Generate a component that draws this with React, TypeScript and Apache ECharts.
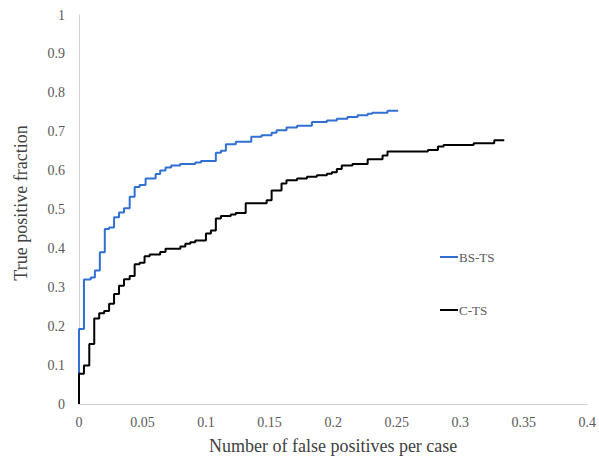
import React, { useEffect, useRef } from "react";
import * as echarts from "echarts";

const xTicks = [0, 0.05, 0.1, 0.15, 0.2, 0.25, 0.3, 0.35, 0.4];
const yTicks = [0, 0.1, 0.2, 0.3, 0.4, 0.5, 0.6, 0.7, 0.8, 0.9, 1];

const bsTsFp = [0, 0, 0.0039, 0.0092, 0.0125, 0.0164, 0.0203, 0.0237, 0.0276, 0.0315, 0.0354, 0.0399, 0.0438, 0.0477, 0.0524, 0.0603, 0.0639, 0.0681, 0.0725, 0.0796, 0.0915, 0.096, 0.1077, 0.1117, 0.1156, 0.1234, 0.1356, 0.1437, 0.1516, 0.1555, 0.1633, 0.1716, 0.1833, 0.1951, 0.2029, 0.2113, 0.2193, 0.2272, 0.2308, 0.2428, 0.2512];
const bsTsTp = [0, 0.193, 0.32, 0.325, 0.343, 0.39, 0.45, 0.454, 0.48, 0.492, 0.503, 0.533, 0.558, 0.563, 0.58, 0.591, 0.6, 0.608, 0.613, 0.617, 0.621, 0.625, 0.646, 0.651, 0.668, 0.674, 0.687, 0.691, 0.697, 0.704, 0.711, 0.715, 0.725, 0.729, 0.733, 0.738, 0.742, 0.746, 0.749, 0.754, 0.754];

const cTsFp = [0, 0, 0.0039, 0.0081, 0.012, 0.0159, 0.0198, 0.0237, 0.0276, 0.0315, 0.0354, 0.0399, 0.0438, 0.0477, 0.0516, 0.0556, 0.0639, 0.0681, 0.0798, 0.0837, 0.0876, 0.0915, 0.0999, 0.1038, 0.1077, 0.1117, 0.1195, 0.1234, 0.1312, 0.1477, 0.1516, 0.1594, 0.1633, 0.1716, 0.1794, 0.1872, 0.1951, 0.199, 0.2029, 0.2068, 0.2152, 0.2272, 0.2389, 0.2428, 0.2746, 0.2825, 0.2869, 0.3106, 0.3268, 0.3347];
const cTsTp = [0, 0.078, 0.099, 0.154, 0.22, 0.233, 0.239, 0.258, 0.283, 0.304, 0.321, 0.329, 0.359, 0.363, 0.38, 0.384, 0.391, 0.399, 0.405, 0.412, 0.416, 0.42, 0.438, 0.446, 0.477, 0.483, 0.487, 0.491, 0.516, 0.524, 0.549, 0.567, 0.575, 0.58, 0.584, 0.588, 0.592, 0.596, 0.604, 0.613, 0.617, 0.629, 0.639, 0.649, 0.653, 0.662, 0.666, 0.67, 0.678, 0.678];

const seriesNames = ["BS-TS", "C-TS"];
const seriesColors = ["#3170d2", "#000000"];

const FONT = "Liberation Serif";

export default function App() {
  const ref = useRef<HTMLDivElement>(null);
  useEffect(() => {
    if (!ref.current) return;
    const chart = echarts.init(ref.current, undefined, { renderer: "svg" });
    const zip = (xs: number[], ys: number[]) => xs.map((x, i) => [x, ys[i]]);
    chart.setOption({
      animation: false,
      backgroundColor: "#ffffff",
      textStyle: { fontFamily: FONT },
      grid: { left: 79, right: 9, top: 15, bottom: 51, containLabel: false },
      xAxis: {
        type: "value",
        min: xTicks[0],
        max: xTicks[xTicks.length - 1],
        interval: 0.05,
        name: "Number of false positives per case",
        nameLocation: "middle",
        nameGap: 33,
        nameTextStyle: { fontFamily: FONT, fontSize: 18, color: "#404040" },
        axisLine: { show: true, lineStyle: { color: "#d0d0d0", width: 1 } },
        axisTick: { show: false },
        splitLine: { show: false },
        axisLabel: { fontFamily: FONT, fontSize: 14, color: "#595959", margin: 11 },
      },
      yAxis: {
        type: "value",
        min: yTicks[0],
        max: yTicks[yTicks.length - 1],
        interval: 0.1,
        axisLine: { show: true, lineStyle: { color: "#d0d0d0", width: 1 } },
        axisTick: { show: false },
        splitLine: { show: false },
        axisLabel: { fontFamily: FONT, fontSize: 14, color: "#595959", margin: 14 },
      },
      graphic: [
        {
          type: "text",
          x: 21,
          y: 203,
          rotation: Math.PI / 2,
          style: {
            text: "True positive fraction",
            fontFamily: FONT,
            fontSize: 18,
            fill: "#404040",
            align: "center",
            verticalAlign: "middle",
          },
        },
        {
          type: "line",
          shape: { x1: 440, y1: 257, x2: 458, y2: 257 },
          style: { stroke: seriesColors[0], lineWidth: 2 },
        },
        {
          type: "text",
          x: 459,
          y: 257,
          style: { text: seriesNames[0], fontFamily: FONT, fontSize: 13, fill: "#595959", verticalAlign: "middle" },
        },
        {
          type: "line",
          shape: { x1: 440, y1: 310, x2: 458, y2: 310 },
          style: { stroke: seriesColors[1], lineWidth: 2 },
        },
        {
          type: "text",
          x: 459,
          y: 310,
          style: { text: seriesNames[1], fontFamily: FONT, fontSize: 13, fill: "#595959", verticalAlign: "middle" },
        },
      ],
      series: [
        {
          name: seriesNames[0],
          type: "line",
          step: "end",
          showSymbol: false,
          data: zip(bsTsFp, bsTsTp),
          lineStyle: { color: seriesColors[0], width: 2 },
          itemStyle: { color: seriesColors[0] },
          z: 2,
        },
        {
          name: seriesNames[1],
          type: "line",
          step: "end",
          showSymbol: false,
          data: zip(cTsFp, cTsTp),
          lineStyle: { color: seriesColors[1], width: 2 },
          itemStyle: { color: seriesColors[1] },
          z: 3,
        },
      ],
    });
    return () => chart.dispose();
  }, []);
  return <div ref={ref} style={{ width: 599, height: 460, position: "absolute", left: 0, top: 0 }} />;
}
